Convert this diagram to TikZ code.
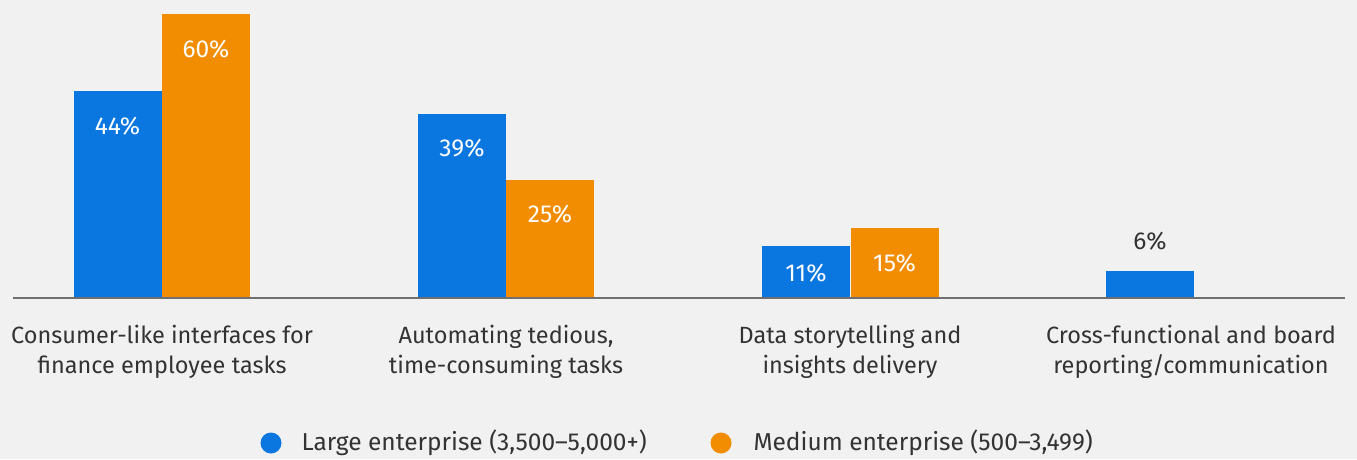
\documentclass[tikz,border=0pt]{standalone}
\usepackage{fontspec}
\setmainfont{Fira Sans}
\usetikzlibrary{positioning}

\definecolor{largeblue}{HTML}{0A77E1}
\definecolor{medorange}{HTML}{F28C00}
\definecolor{bggrey}{HTML}{F0F1F0}
\definecolor{axisgrey}{HTML}{707070}
\definecolor{textgrey}{HTML}{333333}

\newcommand{\pct}[1]{#1\%}

\tikzset{
  bar/.style={rectangle,inner sep=0pt,minimum width=88pt,anchor=south},
  val/.style={text=white,font=\fontsize{24.5}{28}\selectfont},
  cat/.style={align=center,text=textgrey,font=\fontsize{23.5}{30}\selectfont},
  legtext/.style={anchor=west,text=textgrey,font=\fontsize{24.5}{28}\selectfont},
  dot/.style={circle,inner sep=0pt,minimum size=21pt}
}

\begin{document}
\begin{tikzpicture}[x=1pt,y=1pt]
    \fill[bggrey] (0,0) rectangle (1357,459);
    \useasboundingbox (0,0) rectangle (1357,459);
    \coordinate (axl) at (13,161);
    \coordinate (axr) at (1345,161);
    \node[bar,fill=largeblue,minimum height=207pt] (l1) at (117.5,161) {};
    \node[bar,fill=medorange,minimum height=284pt] (m1) at (206,161) {};
    \node[bar,fill=largeblue,minimum height=184pt] (l2) at (462,161) {};
    \node[bar,fill=medorange,minimum height=118pt] (m2) at (550,161) {};
    \node[bar,fill=largeblue,minimum height=52pt] (l3) at (806,161) {};
    \node[bar,fill=medorange,minimum height=70pt] (m3) at (894.5,161) {};
    \node[bar,fill=largeblue,minimum height=27pt] (l4) at (1150,161) {};
    \draw[axisgrey,line width=1.5pt] (axl) -- (axr);
    \node[val] (v1) at ([yshift=-36pt]l1.north) {\pct{44}};
    \node[val] (w1) at ([yshift=-36pt]m1.north) {\pct{60}};
    \node[val] (v2) at ([yshift=-35pt]l2.north) {\pct{39}};
    \node[val] (w2) at ([yshift=-35pt]m2.north) {\pct{25}};
    \node[val] (v3) at ([yshift=-28pt]l3.north) {\pct{11}};
    \node[val] (w3) at ([yshift=-36pt]m3.north) {\pct{15}};
    \node[val,text=textgrey] (v4) at ([yshift=29pt]l4.north) {\pct{6}};
    \node[cat] (c1) at (162,107) {Consumer-like interfaces for\\finance employee tasks};
    \node[cat] (c2) at (506,107) {Automating tedious,\\time-consuming tasks};
    \node[cat] (c3) at (850,107) {Data storytelling and\\insights delivery};
    \node[cat] (c4) at (1191,107) {Cross-functional and board\\reporting/communication};
    \node[dot,fill=largeblue] (d1) at (271,16) {};
    \node[legtext] (t1) at (298,16) {Large enterprise (3,500–5,000+)};
    \node[dot,fill=medorange] (d2) at (721,16) {};
    \node[legtext] (t2) at (750,16) {Medium enterprise (500–3,499)};
\end{tikzpicture}
\end{document}
